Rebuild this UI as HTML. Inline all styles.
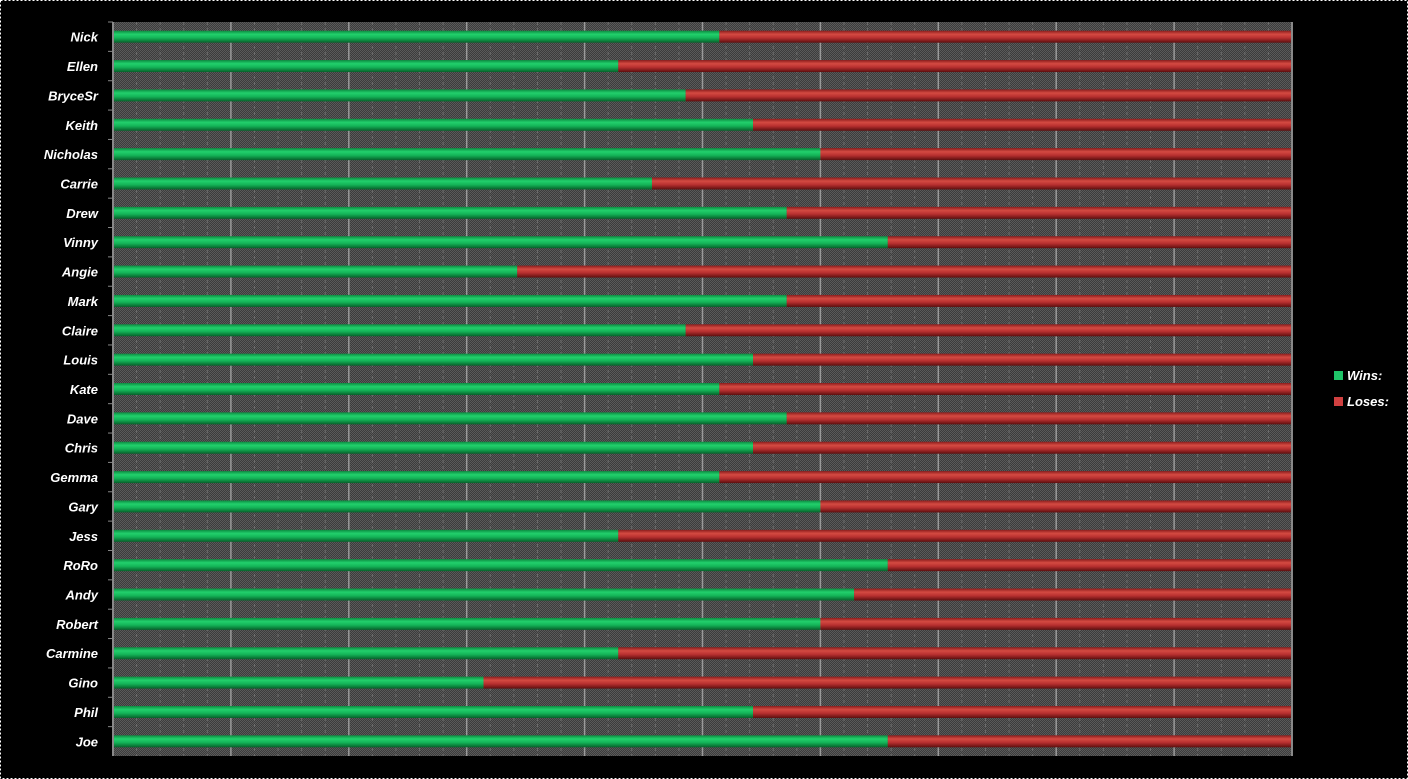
<!DOCTYPE html>
<html><head><meta charset="utf-8"><style>
html,body{margin:0;padding:0;background:#000;width:1408px;height:779px;overflow:hidden}
text{font-family:"Liberation Sans",sans-serif;font-weight:bold;font-style:italic;fill:#fff}
</style></head><body>
<svg id="chart" width="1408" height="779" xmlns="http://www.w3.org/2000/svg">
<defs>
<linearGradient id="gG" x1="0" y1="0" x2="0" y2="1"><stop offset="0" stop-color="#0c8a40"/><stop offset="0.3" stop-color="#22d06c"/><stop offset="0.6" stop-color="#14b458"/><stop offset="1" stop-color="#06602a"/></linearGradient>
<linearGradient id="gR" x1="0" y1="0" x2="0" y2="1"><stop offset="0" stop-color="#8a1c1c"/><stop offset="0.3" stop-color="#d44a42"/><stop offset="0.6" stop-color="#b83030"/><stop offset="1" stop-color="#5c0e0e"/></linearGradient>
<pattern id="dots" width="2" height="2" patternUnits="userSpaceOnUse"><rect width="2" height="2" fill="#3c3c3c"/><rect width="1" height="1" fill="#5a5a5a"/><rect x="1" y="1" width="1" height="1" fill="#5a5a5a"/></pattern>
</defs>
<rect x="0.5" y="0.5" width="1407" height="778" fill="none" stroke="#fff" stroke-dasharray="2,2"/>
<rect x="113" y="22" width="1180" height="734" fill="url(#dots)"/>
<g id="grid"></g><g id="bars"></g><g id="labels"></g>
<line x1="113" y1="22" x2="113" y2="756" stroke="#888" stroke-width="2"/>
<line x1="1292" y1="22" x2="1292" y2="756" stroke="#888" stroke-width="2"/>
<g>
<rect x="1334" y="371" width="9" height="9" fill="#1fc468"/>
<text x="1347" y="380" font-size="13">Wins:</text>
<rect x="1334" y="397" width="9" height="9" fill="#d04040"/>
<text x="1347" y="406" font-size="13">Loses:</text>
</g>
</svg>
<script>
const players=["Nick","Ellen","BryceSr","Keith","Nicholas","Carrie","Drew","Vinny","Angie","Mark","Claire","Louis","Kate","Dave","Chris","Gemma","Gary","Jess","RoRo","Andy","Robert","Carmine","Gino","Phil","Joe"];
const wins=[18,15,17,19,21,16,20,23,12,20,17,19,18,20,19,18,21,15,23,22,21,15,11,19,23];
const loses=[17,20,18,16,14,19,15,12,23,15,18,16,17,15,16,17,14,20,12,13,14,20,24,16,12];
const NS="http://www.w3.org/2000/svg";
const X0=113,X1=1292,Y0=22,Y1=756;
const rowH=(Y1-Y0)/players.length;
const x=p=>X0+(X1-X0)*p;
const y=i=>Y0+rowH*(i+0.5);
const grid=document.getElementById('grid'),bars=document.getElementById('bars'),labels=document.getElementById('labels');
for(let k=1;k<50;k++){const l=document.createElementNS(NS,'line');const major=k%5===0;
l.setAttribute('x1',x(k/50));l.setAttribute('x2',x(k/50));l.setAttribute('y1',Y0);l.setAttribute('y2',Y1);
l.setAttribute('stroke',major?'#9a9a9a':'#6e6e6e');l.setAttribute('stroke-width',major?1.5:1);if(!major)l.setAttribute('stroke-dasharray','3,3');


grid.appendChild(l);}
players.forEach((n,i)=>{const tot=wins[i]+loses[i];const p=wins[i]/tot;const cy=y(i);
const g=document.createElementNS(NS,'rect');g.setAttribute('x',x(0));g.setAttribute('y',cy-6);g.setAttribute('width',x(p)-x(0));g.setAttribute('height',12);g.setAttribute('fill','url(#gG)');


bars.appendChild(g);
const r=document.createElementNS(NS,'rect');r.setAttribute('x',x(p));r.setAttribute('y',cy-6);r.setAttribute('width',x(1)-x(p));r.setAttribute('height',12);r.setAttribute('fill','url(#gR)');


bars.appendChild(r);
const t=document.createElementNS(NS,'text');t.setAttribute('x',98);t.setAttribute('y',cy+5);t.setAttribute('text-anchor','end');t.setAttribute('font-size','13');t.textContent=n;


labels.appendChild(t);
const tk=document.createElementNS(NS,'line');tk.setAttribute('x1',108);tk.setAttribute('x2',113);tk.setAttribute('y1',Y0+rowH*i);tk.setAttribute('y2',Y0+rowH*i);tk.setAttribute('stroke','#888');


labels.appendChild(tk);
});
</script>
</body></html>
